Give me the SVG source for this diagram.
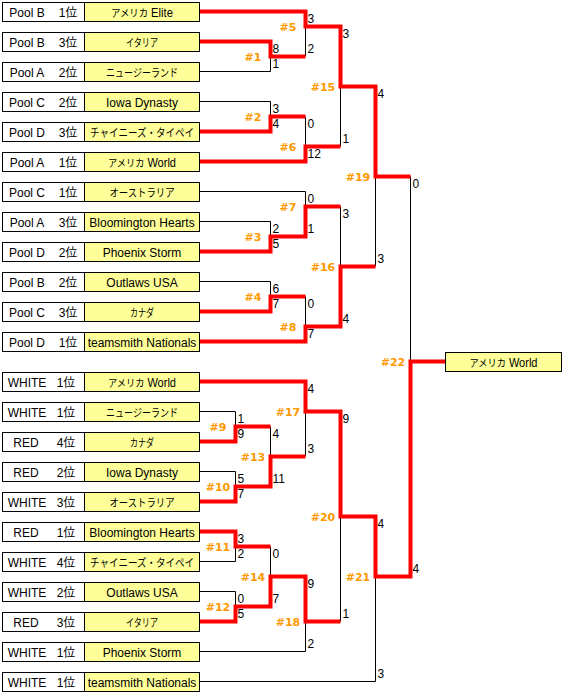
<svg xmlns="http://www.w3.org/2000/svg" width="564" height="693" viewBox="0 0 564 693">
<style>
text{font-family:"Liberation Sans","Noto Sans CJK JP",sans-serif;font-size:12px;fill:#000}
.l{fill:#fff;stroke:#000;stroke-width:1}
.y{fill:#FFFF99;stroke:#000;stroke-width:1}
.m{text-anchor:middle}
.n{text-anchor:middle}
.k{font-family:"Noto Sans CJK JP",sans-serif;font-size:11px}
.k2{font-family:"Noto Sans CJK JP",sans-serif;font-size:10px}
.lab{font-family:"DejaVu Sans","Liberation Sans",sans-serif;font-weight:bold;font-size:11px;fill:#FF9900;text-anchor:middle}
.bk{fill:none;stroke:#000;stroke-width:1}
.rd{fill:none;stroke:#FF0000;stroke-width:4;stroke-linejoin:miter;stroke-linecap:butt}
</style>
<rect width="564" height="693" fill="#fff"/>
<g id="connectors">
<path class="bk" d="M200 71.5H270.5V56.5M200 101.5H270.5V116.5M305.5 26.5V56.5M305.5 116.5V146.5M340.5 86.5V146.5M200 191.5H305.5V206.5M200 221.5H270.5V236.5M200 281.5H270.5V296.5M305.5 296.5V326.5M340.5 206.5V266.5M375.5 176.5V266.5M410.5 176.5V361.5M200 411.5H235.5V426.5M200 471.5H235.5V486.5M270.5 426.5V456.5M305.5 411.5V456.5M200 561.5H235.5V546.5M200 591.5H235.5V606.5M270.5 546.5V576.5M200 651.5H305.5V621.5M340.5 516.5V621.5M200 681.5H375.5V576.5"/>
<path class="rd" d="M200 11.5H305.5V26.5H340.5V86.5H375.5V176.5H410.5"/>
<path class="rd" d="M200 41.5H270.5V56.5H305.5"/>
<path class="rd" d="M200 131.5H270.5V116.5H305.5"/>
<path class="rd" d="M200 161.5H305.5V146.5H340.5"/>
<path class="rd" d="M200 251.5H270.5V236.5H305.5V206.5H340.5"/>
<path class="rd" d="M200 311.5H270.5V296.5H305.5"/>
<path class="rd" d="M200 341.5H305.5V326.5H340.5V266.5H375.5"/>
<path class="rd" d="M200 381.5H305.5V411.5H340.5V516.5H375.5V576.5H410.5V361.5H445"/>
<path class="rd" d="M200 441.5H235.5V426.5H270.5"/>
<path class="rd" d="M200 501.5H235.5V486.5H270.5V456.5H305.5"/>
<path class="rd" d="M200 531.5H235.5V546.5H270.5"/>
<path class="rd" d="M200 621.5H235.5V606.5H270.5V576.5H305.5V621.5H340.5"/>
</g>
<g id="scores">
<text x="272.5" y="52.5">8</text><text x="272.5" y="67.5">1</text>
<text x="272.5" y="112.5">3</text><text x="272.5" y="127.5">4</text>
<text x="272.5" y="232.5">2</text><text x="272.5" y="247.5">5</text>
<text x="272.5" y="292.5">6</text><text x="272.5" y="307.5">7</text>
<text x="307.5" y="22.5">3</text><text x="307.5" y="52.5">2</text>
<text x="307.5" y="127.5">0</text><text x="307.5" y="157.5">12</text>
<text x="307.5" y="202.5">0</text><text x="307.5" y="232.5">1</text>
<text x="307.5" y="307.5">0</text><text x="307.5" y="337.5">7</text>
<text x="342.5" y="37.5">3</text><text x="342.5" y="142.5">1</text>
<text x="342.5" y="217.5">3</text><text x="342.5" y="322.5">4</text>
<text x="377.5" y="97.5">4</text><text x="377.5" y="262.5">3</text>
<text x="412.5" y="187.5">0</text><text x="412.5" y="572.5">4</text>
<text x="237.5" y="422.5">1</text><text x="237.5" y="437.5">9</text>
<text x="237.5" y="482.5">5</text><text x="237.5" y="497.5">7</text>
<text x="272.5" y="437.5">4</text><text x="272.5" y="482.5">11</text>
<text x="307.5" y="392.5">4</text><text x="307.5" y="452.5">3</text>
<text x="237.5" y="542.5">3</text><text x="237.5" y="557.5">2</text>
<text x="237.5" y="602.5">0</text><text x="237.5" y="617.5">5</text>
<text x="272.5" y="557.5">0</text><text x="272.5" y="602.5">7</text>
<text x="307.5" y="587.5">9</text><text x="307.5" y="647.5">2</text>
<text x="342.5" y="422.5">9</text><text x="342.5" y="617.5">1</text>
<text x="377.5" y="527.5">4</text><text x="377.5" y="677.5">3</text>
</g>
<g id="match-labels">
<text class="lab" x="253" y="61">#1</text>
<text class="lab" x="253" y="121">#2</text>
<text class="lab" x="253" y="241">#3</text>
<text class="lab" x="253" y="301">#4</text>
<text class="lab" x="288" y="31">#5</text>
<text class="lab" x="288" y="151">#6</text>
<text class="lab" x="288" y="211">#7</text>
<text class="lab" x="288" y="331">#8</text>
<text class="lab" x="323" y="91">#15</text>
<text class="lab" x="323" y="271">#16</text>
<text class="lab" x="358" y="181">#19</text>
<text class="lab" x="393" y="366">#22</text>
<text class="lab" x="218" y="431">#9</text>
<text class="lab" x="218" y="491">#10</text>
<text class="lab" x="218" y="551">#11</text>
<text class="lab" x="218" y="611">#12</text>
<text class="lab" x="253" y="461">#13</text>
<text class="lab" x="253" y="581">#14</text>
<text class="lab" x="288" y="416">#17</text>
<text class="lab" x="288" y="626">#18</text>
<text class="lab" x="323" y="521">#20</text>
<text class="lab" x="358" y="581">#21</text>
</g>
<g id="t1"><rect class="l" x="2.5" y="2.5" width="82" height="19"/><rect class="y" x="84.5" y="2.5" width="115" height="19"/><text class="m" x="27" y="16.5">Pool B</text><text class="m" x="68" y="16.5">1位</text><text class="n" x="142" y="16.5" textLength="62" lengthAdjust="spacingAndGlyphs"><tspan class="k2">アメリカ</tspan> Elite</text></g>
<g id="t2"><rect class="l" x="2.5" y="32.5" width="82" height="19"/><rect class="y" x="84.5" y="32.5" width="115" height="19"/><text class="m" x="27" y="46.5">Pool B</text><text class="m" x="68" y="46.5">3位</text><text class="k n" x="142" y="46.5" textLength="32" lengthAdjust="spacingAndGlyphs">イタリア</text></g>
<g id="t3"><rect class="l" x="2.5" y="62.5" width="82" height="19"/><rect class="y" x="84.5" y="62.5" width="115" height="19"/><text class="m" x="27" y="76.5">Pool A</text><text class="m" x="68" y="76.5">2位</text><text class="k n" x="142" y="76.5" textLength="72" lengthAdjust="spacingAndGlyphs">ニュージーランド</text></g>
<g id="t4"><rect class="l" x="2.5" y="92.5" width="82" height="19"/><rect class="y" x="84.5" y="92.5" width="115" height="19"/><text class="m" x="27" y="106.5">Pool C</text><text class="m" x="68" y="106.5">2位</text><text class="n" x="142" y="106.5">Iowa Dynasty</text></g>
<g id="t5"><rect class="l" x="2.5" y="122.5" width="82" height="19"/><rect class="y" x="84.5" y="122.5" width="115" height="19"/><text class="m" x="27" y="136.5">Pool D</text><text class="m" x="68" y="136.5">3位</text><text class="k n" x="142" y="136.5" textLength="104" lengthAdjust="spacingAndGlyphs">チャイニーズ・タイペイ</text></g>
<g id="t6"><rect class="l" x="2.5" y="152.5" width="82" height="19"/><rect class="y" x="84.5" y="152.5" width="115" height="19"/><text class="m" x="27" y="166.5">Pool A</text><text class="m" x="68" y="166.5">1位</text><text class="n" x="142" y="166.5" textLength="68" lengthAdjust="spacingAndGlyphs"><tspan class="k2">アメリカ</tspan> World</text></g>
<g id="t7"><rect class="l" x="2.5" y="182.5" width="82" height="19"/><rect class="y" x="84.5" y="182.5" width="115" height="19"/><text class="m" x="27" y="196.5">Pool C</text><text class="m" x="68" y="196.5">1位</text><text class="k n" x="142" y="196.5" textLength="65" lengthAdjust="spacingAndGlyphs">オーストラリア</text></g>
<g id="t8"><rect class="l" x="2.5" y="212.5" width="82" height="19"/><rect class="y" x="84.5" y="212.5" width="115" height="19"/><text class="m" x="27" y="226.5">Pool A</text><text class="m" x="68" y="226.5">3位</text><text class="n" x="142" y="226.5">Bloomington Hearts</text></g>
<g id="t9"><rect class="l" x="2.5" y="242.5" width="82" height="19"/><rect class="y" x="84.5" y="242.5" width="115" height="19"/><text class="m" x="27" y="256.5">Pool D</text><text class="m" x="68" y="256.5">2位</text><text class="n" x="142" y="256.5">Phoenix Storm</text></g>
<g id="t10"><rect class="l" x="2.5" y="272.5" width="82" height="19"/><rect class="y" x="84.5" y="272.5" width="115" height="19"/><text class="m" x="27" y="286.5">Pool B</text><text class="m" x="68" y="286.5">2位</text><text class="n" x="142" y="286.5">Outlaws USA</text></g>
<g id="t11"><rect class="l" x="2.5" y="302.5" width="82" height="19"/><rect class="y" x="84.5" y="302.5" width="115" height="19"/><text class="m" x="27" y="316.5">Pool C</text><text class="m" x="68" y="316.5">3位</text><text class="k n" x="142" y="316.5" textLength="24" lengthAdjust="spacingAndGlyphs">カナダ</text></g>
<g id="t12"><rect class="l" x="2.5" y="332.5" width="82" height="19"/><rect class="y" x="84.5" y="332.5" width="115" height="19"/><text class="m" x="27" y="346.5">Pool D</text><text class="m" x="68" y="346.5">1位</text><text class="n" x="142" y="346.5">teamsmith Nationals</text></g>
<g id="b1"><rect class="l" x="2.5" y="372.5" width="82" height="19"/><rect class="y" x="84.5" y="372.5" width="115" height="19"/><text class="m" x="27" y="386.5">WHITE</text><text class="m" x="66" y="386.5">1位</text><text class="n" x="142" y="386.5" textLength="68" lengthAdjust="spacingAndGlyphs"><tspan class="k2">アメリカ</tspan> World</text></g>
<g id="b2"><rect class="l" x="2.5" y="402.5" width="82" height="19"/><rect class="y" x="84.5" y="402.5" width="115" height="19"/><text class="m" x="27" y="416.5">WHITE</text><text class="m" x="66" y="416.5">1位</text><text class="k n" x="142" y="416.5" textLength="72" lengthAdjust="spacingAndGlyphs">ニュージーランド</text></g>
<g id="b3"><rect class="l" x="2.5" y="432.5" width="82" height="19"/><rect class="y" x="84.5" y="432.5" width="115" height="19"/><text class="m" x="26" y="446.5">RED</text><text class="m" x="66" y="446.5">4位</text><text class="k n" x="142" y="446.5" textLength="24" lengthAdjust="spacingAndGlyphs">カナダ</text></g>
<g id="b4"><rect class="l" x="2.5" y="462.5" width="82" height="19"/><rect class="y" x="84.5" y="462.5" width="115" height="19"/><text class="m" x="26" y="476.5">RED</text><text class="m" x="66" y="476.5">2位</text><text class="n" x="142" y="476.5">Iowa Dynasty</text></g>
<g id="b5"><rect class="l" x="2.5" y="492.5" width="82" height="19"/><rect class="y" x="84.5" y="492.5" width="115" height="19"/><text class="m" x="27" y="506.5">WHITE</text><text class="m" x="66" y="506.5">3位</text><text class="k n" x="142" y="506.5" textLength="65" lengthAdjust="spacingAndGlyphs">オーストラリア</text></g>
<g id="b6"><rect class="l" x="2.5" y="522.5" width="82" height="19"/><rect class="y" x="84.5" y="522.5" width="115" height="19"/><text class="m" x="26" y="536.5">RED</text><text class="m" x="66" y="536.5">1位</text><text class="n" x="142" y="536.5">Bloomington Hearts</text></g>
<g id="b7"><rect class="l" x="2.5" y="552.5" width="82" height="19"/><rect class="y" x="84.5" y="552.5" width="115" height="19"/><text class="m" x="27" y="566.5">WHITE</text><text class="m" x="66" y="566.5">4位</text><text class="k n" x="142" y="566.5" textLength="104" lengthAdjust="spacingAndGlyphs">チャイニーズ・タイペイ</text></g>
<g id="b8"><rect class="l" x="2.5" y="582.5" width="82" height="19"/><rect class="y" x="84.5" y="582.5" width="115" height="19"/><text class="m" x="27" y="596.5">WHITE</text><text class="m" x="66" y="596.5">2位</text><text class="n" x="142" y="596.5">Outlaws USA</text></g>
<g id="b9"><rect class="l" x="2.5" y="612.5" width="82" height="19"/><rect class="y" x="84.5" y="612.5" width="115" height="19"/><text class="m" x="26" y="626.5">RED</text><text class="m" x="66" y="626.5">3位</text><text class="k n" x="142" y="626.5" textLength="32" lengthAdjust="spacingAndGlyphs">イタリア</text></g>
<g id="b10"><rect class="l" x="2.5" y="642.5" width="82" height="19"/><rect class="y" x="84.5" y="642.5" width="115" height="19"/><text class="m" x="27" y="656.5">WHITE</text><text class="m" x="66" y="656.5">1位</text><text class="n" x="142" y="656.5">Phoenix Storm</text></g>
<g id="b11"><rect class="l" x="2.5" y="672.5" width="82" height="19"/><rect class="y" x="84.5" y="672.5" width="115" height="19"/><text class="m" x="27" y="686.5">WHITE</text><text class="m" x="66" y="686.5">1位</text><text class="n" x="142" y="686.5">teamsmith Nationals</text></g>
<g id="champion"><rect class="y" x="445.5" y="352.5" width="116" height="19"/><text class="n" x="503.5" y="366.5" textLength="68" lengthAdjust="spacingAndGlyphs"><tspan class="k2">アメリカ</tspan> World</text></g>
</svg>
